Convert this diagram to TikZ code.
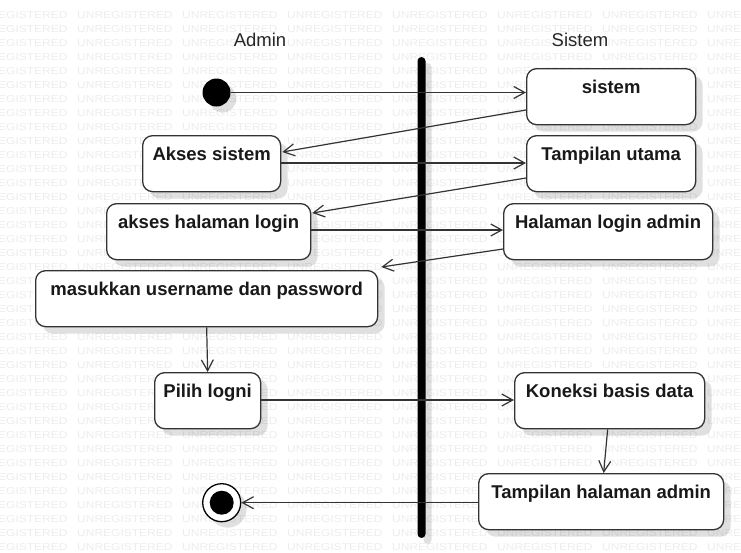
\documentclass[tikz,border=0pt]{standalone}
\usepackage{fontspec}
\setmainfont{Liberation Sans}
\usetikzlibrary{arrows.meta,calc,shadows}

\tikzset{
  wm/.style={anchor=west, inner sep=0pt, text=black!7,
    font=\fontsize{10}{10}\selectfont},
  actbox/.style={draw=black!80, line width=1.3pt, fill=white,
    rounded corners=10pt, anchor=north west, inner xsep=4pt, inner ysep=0pt,
    text height=25pt, text depth=31pt, text=black!90,
    font=\fontsize{18.5}{20}\selectfont\bfseries,
    drop shadow={shadow xshift=7pt, shadow yshift=-7pt, opacity=0.12, fill=black}},
  lane/.style={font=\fontsize{18.5}{20}\selectfont, text=black!85},
  flow/.style={draw=black!80, line width=1.2pt,
    -{Straight Barb[length=11pt,width=12pt,line width=1.2pt]}},
  startnode/.style={circle, fill=black, inner sep=0pt, minimum size=28pt,
    drop shadow={shadow xshift=6pt, shadow yshift=-6pt, opacity=0.12, fill=black}},
  endring/.style={circle, draw=black, line width=1.3pt, fill=white, inner sep=0pt,
    minimum size=38pt,
    drop shadow={shadow xshift=6pt, shadow yshift=-6pt, opacity=0.12, fill=black}},
  enddot/.style={circle, fill=black, inner sep=0pt, minimum size=24pt},
  forkbar/.style={fill=black, rounded corners=4pt, inner sep=0pt,
    minimum width=8pt, minimum height=481pt,
    drop shadow={shadow xshift=6pt, shadow yshift=-6pt, opacity=0.12, fill=black}}
}

\begin{document}
\begin{tikzpicture}[x=1pt,y=-1pt]
  \useasboundingbox[fill=white] (0,0) rectangle (741,552);

  % background watermark rows
  \begin{scope}
    \clip (0,0) rectangle (741,552);
    \foreach \r in {0,...,38}
      \foreach \c in {-1,...,6}
        \node[wm] at ({77+105*\c},{15+14*\r}) {\scalebox{1.2}[1]{UNREGISTERED}};
  \end{scope}

  % swimlane titles
  \node[lane] (admin) at (260,40) {Admin};
  \node[lane] (sistemlane) at (580,40) {Sistem};

  % lane separator
  \node[forkbar] (sep) at (421.5,297.5) {};

  % activities
  \node[actbox, minimum width=169pt] (sis) at (526,68) {sistem};
  \node[actbox, minimum width=138pt] (aks) at (142,135) {Akses sistem};
  \node[actbox, minimum width=169pt] (tam) at (526,135) {Tampilan utama};
  \node[actbox, minimum width=204pt] (ahl) at (106,203) {akses halaman login};
  \node[actbox, minimum width=209pt] (hla) at (503,203) {Halaman login admin};
  \node[actbox, minimum width=342pt] (mas) at (35,270) {masukkan username dan password};
  \node[actbox, minimum width=106pt] (pil) at (154,372) {Pilih logni};
  \node[actbox, minimum width=190pt] (kon) at (514,372) {Koneksi basis data};
  \node[actbox, minimum width=245pt] (tha) at (478,473) {Tampilan halaman admin};

  % start and end
  \node[startnode] (init) at (216.5,92.5) {};
  \node[endring] (fin) at (221.7,502.7) {};
  \node[enddot] (findot) at (fin) {};

  % control flow
  \draw[flow] (init) -- (init -| sis.west);
  \draw[flow] ($(sis.north west)+(0,42)$) -- ($(aks.north east)+(1,17)$);
  \draw[flow] ($(aks.north east)+(0,28)$) -- ($(tam.north west)+(0,28)$);
  \draw[flow] ($(tam.north west)+(0,43)$) -- ($(ahl.north east)+(1,10)$);
  \draw[flow] ($(ahl.north east)+(0,27)$) -- ($(hla.north west)+(0,27)$);
  \draw[flow] ($(hla.north west)+(0,46)$) -- ($(mas.north east)+(3,-3)$);
  \draw[flow] (mas.south) -- (pil.north);
  \draw[flow] ($(pil.north east)+(0,28)$) -- ($(kon.north west)+(0,28)$);
  \draw[flow] ($(kon.south)+(-2,0)$) -- ($(tha.north)+(2.5,0)$);
  \draw[flow] ($(tha.north west)+(0,29.7)$) -- (fin.east);
\end{tikzpicture}
\end{document}
